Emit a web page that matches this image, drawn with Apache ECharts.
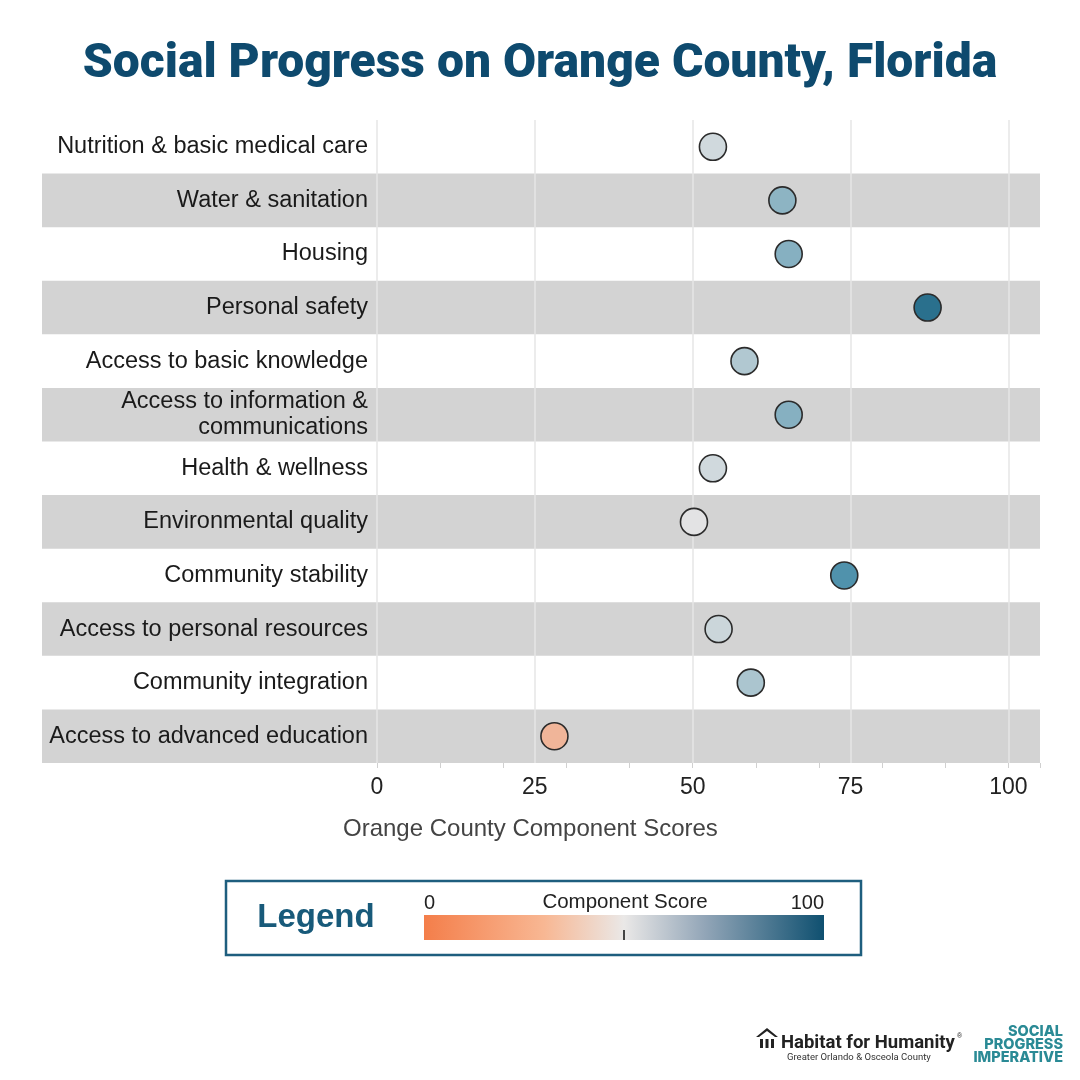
<!DOCTYPE html>
<html>
<head>
<meta charset="utf-8">
<script src="https://cdn.jsdelivr.net/npm/echarts@6/dist/echarts.min.js"></script>
<style>
html,body{margin:0;padding:0;background:#fff;}
#chart{width:1080px;height:1080px;}
</style>
</head>
<body>
<div id="chart"></div>
<script>
// ---- data ----
const categories = [
  'Nutrition & basic medical care',
  'Water & sanitation',
  'Housing',
  'Personal safety',
  'Access to basic knowledge',
  'Access to information &\ncommunications',
  'Health & wellness',
  'Environmental quality',
  'Community stability',
  'Access to personal resources',
  'Community integration',
  'Access to advanced education'
];
const scores = [53.2, 64.2, 65.2, 87.2, 58.2, 65.2, 53.2, 50.2, 74.0, 54.1, 59.2, 28.1];
const xTickLabels = [0, 25, 50, 75, 100];
const legendMin = 0;
const legendMax = 100;

// ---- styling ----
const dotColors = ['#F37D49', '#F2AE8E', '#E4E4E4', '#4A8FAA', '#08506F'];
const legendStops = [
  [0, '#F47E4A'], [0.3, '#F8B793'], [0.5, '#EAE8E7'], [0.7, '#93A6B8'], [1, '#0F5070']
];
const titleColor = '#0E4A6E';
const labelFont = 'Liberation Sans, Arial, sans-serif';

const chart = echarts.init(document.getElementById('chart'), null, {renderer: 'canvas'});

const gridTop = 120, gridBottom = 317;

const option = {
  backgroundColor: '#ffffff',
  animation: false,
  title: [
    {
      text: 'Social Progress on Orange County, Florida',
      left: 'center', top: 36,
      textStyle: {fontFamily: 'Roboto, sans-serif', fontWeight: 900, fontSize: 48, color: titleColor}
    },
    {
      text: 'Orange County Component Scores',
      left: 338, top: 812,
      textStyle: {fontFamily: labelFont, fontWeight: 'normal', fontSize: 24, color: '#444'}
    }
  ],
  grid: [
    {left: 42, right: 40, top: gridTop, bottom: gridBottom},
    {left: 377, right: 40, top: gridTop, bottom: gridBottom}
  ],
  xAxis: [
    {gridIndex: 0, type: 'value', show: false, min: 0, max: 1},
    {
      gridIndex: 1, type: 'value', position: 'bottom', min: 0, max: 105, interval: 25, z: 2,
      axisLine: {show: false}, axisTick: {show: false},
      splitLine: {show: true, showMaxLine: false, lineStyle: {color: '#E6E6E6', width: 1.5}},
      axisLabel: {
        fontFamily: labelFont, fontSize: 23, color: '#222', margin: 13,
        formatter: v => (xTickLabels.indexOf(v) >= 0 ? String(v) : '')
      }
    },
    {
      gridIndex: 1, type: 'value', position: 'bottom', offset: 0, min: 0, max: 105, interval: 10, z: 2,
      axisLine: {show: false}, axisLabel: {show: false}, splitLine: {show: false},
      axisTick: {show: true, length: 5, lineStyle: {color: '#D0D0D0', width: 1}}
    }
  ],
  yAxis: [
    {
      gridIndex: 0, type: 'category', data: categories, inverse: true, z: 0,
      axisLine: {show: false}, axisTick: {show: false}, axisLabel: {show: false},
      splitLine: {show: false},
      splitArea: {show: true, areaStyle: {color: ['rgba(255,255,255,0)', '#D3D3D3']}}
    },
    {
      gridIndex: 1, type: 'category', data: categories, inverse: true, z: 3,
      axisLine: {show: false}, axisTick: {show: false}, splitLine: {show: false},
      axisLabel: {fontFamily: labelFont, fontSize: 23.5, color: '#1a1a1a', margin: 9, lineHeight: 26, align: 'right'}
    }
  ],
  visualMap: {
    type: 'continuous', show: false, min: legendMin, max: legendMax,
    dimension: 0, seriesIndex: 0,
    inRange: {color: dotColors}
  },
  series: [
    {
      type: 'scatter', xAxisIndex: 1, yAxisIndex: 1, z: 5,
      symbol: 'circle', symbolSize: 27,
      itemStyle: {borderColor: '#2b2b2b', borderWidth: 1.6, opacity: 1},
      data: scores.map((v, i) => [v, categories[i]])
    }
  ],
  graphic: [
    // legend box
    {type: 'rect', shape: {x: 226, y: 881, width: 635, height: 74},
     style: {fill: '#fff', stroke: '#1E5E7E', lineWidth: 2.5}},
    {type: 'text', x: 316, y: 918,
     style: {text: 'Legend', fill: '#185A7A', font: 'bold 33px Liberation Sans, Arial, sans-serif', align: 'center', verticalAlign: 'middle'}},
    {type: 'rect', shape: {x: 424, y: 915, width: 400, height: 25},
     style: {fill: new echarts.graphic.LinearGradient(0, 0, 1, 0,
       legendStops.map(s => ({offset: s[0], color: s[1]})))}},
    {type: 'line', shape: {x1: 624, y1: 930, x2: 624, y2: 940},
     style: {stroke: '#444', lineWidth: 2}},
    {type: 'text', x: 424, y: 903,
     style: {text: String(legendMin), fill: '#222', font: '20px Liberation Sans, Arial, sans-serif', align: 'left', verticalAlign: 'middle'}},
    {type: 'text', x: 625, y: 902,
     style: {text: 'Component Score', fill: '#222', font: '20.5px Liberation Sans, Arial, sans-serif', align: 'center', verticalAlign: 'middle'}},
    {type: 'text', x: 824, y: 903,
     style: {text: String(legendMax), fill: '#222', font: '20px Liberation Sans, Arial, sans-serif', align: 'right', verticalAlign: 'middle'}},
    // Habitat logo
    {type: 'polygon', shape: {points: [[756, 1037], [767, 1028], [778, 1037], [775, 1037], [767, 1031], [759, 1037]]},
     style: {fill: '#222'}},
    {type: 'rect', shape: {x: 760, y: 1039, width: 3, height: 9}, style: {fill: '#222'}},
    {type: 'rect', shape: {x: 765.5, y: 1039, width: 3, height: 9}, style: {fill: '#222'}},
    {type: 'rect', shape: {x: 771, y: 1039, width: 3, height: 9}, style: {fill: '#222'}},
    {type: 'text', x: 781, y: 1043,
     style: {text: 'Habitat for Humanity', fill: '#222', font: 'bold 18.5px Roboto, Liberation Sans, Arial, sans-serif', align: 'left', verticalAlign: 'middle'}},
    {type: 'text', x: 957, y: 1036,
     style: {text: '®', fill: '#222', font: '7px Liberation Sans, Arial, sans-serif', align: 'left', verticalAlign: 'middle'}},
    {type: 'text', x: 787, y: 1058,
     style: {text: 'Greater Orlando & Osceola County', fill: '#333', font: '9.5px Roboto, Liberation Sans, Arial, sans-serif', align: 'left', verticalAlign: 'middle'}},
    {type: 'text', x: 1063, y: 1032,
     style: {text: 'SOCIAL', fill: '#2A8A95', font: '800 14.5px Inter, sans-serif', align: 'right', verticalAlign: 'middle'}},
    {type: 'text', x: 1063, y: 1045,
     style: {text: 'PROGRESS', fill: '#2A8A95', font: '800 14.5px Inter, sans-serif', align: 'right', verticalAlign: 'middle'}},
    {type: 'text', x: 1063, y: 1058,
     style: {text: 'IMPERATIVE', fill: '#2A8A95', font: '800 14.5px Inter, sans-serif', align: 'right', verticalAlign: 'middle'}}
  ]
};

chart.setOption(option);
</script>
</body>
</html>
